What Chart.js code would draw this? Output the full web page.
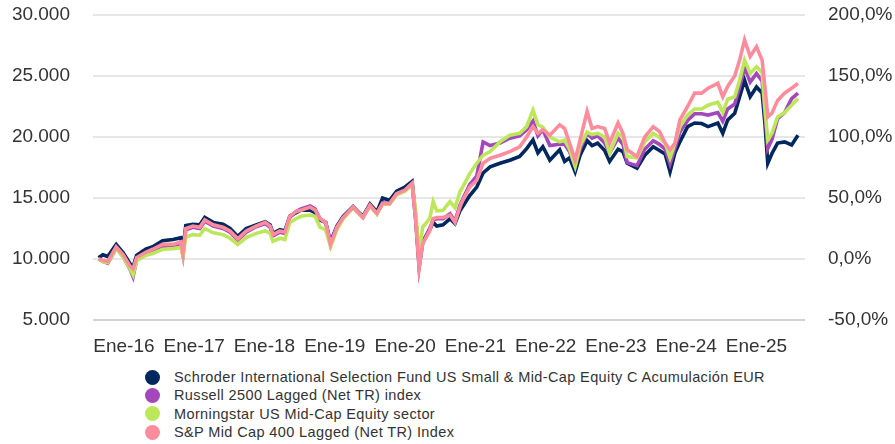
<!DOCTYPE html>
<html>
<head>
<meta charset="utf-8">
<script src="https://cdn.jsdelivr.net/npm/chart.js@4/dist/chart.umd.min.js"></script>
<style>
html,body{margin:0;padding:0;background:#fff;}
#wrap{position:relative;width:895px;height:444px;overflow:hidden;}
#c{position:absolute;left:0;top:0;}
#legend{position:absolute;left:145px;top:368px;font-family:"Liberation Sans",Arial,sans-serif;font-size:14.5px;letter-spacing:0.38px;color:#333;}
.item{display:flex;align-items:center;height:18.3px;white-space:nowrap;}
.dot{width:15px;height:15px;border-radius:50%;margin-right:14px;flex:none;}
</style>
</head>
<body>
<div id="wrap"><canvas id="c" width="895" height="362"></canvas><div id="legend"></div></div>
<script>
const seriesNames = [
  "Schroder International Selection Fund US Small & Mid-Cap Equity C Acumulación EUR",
  "Russell 2500 Lagged (Net TR) index",
  "Morningstar US Mid-Cap Equity sector",
  "S&P Mid Cap 400 Lagged (Net TR) Index"
];
const seriesColors = ["#00285f", "#a347ba", "#bde75b", "#ff8c9c"];

// dates as decimal years
const dates = [
2015.64,2015.70,2015.77,2015.89,2015.99,2016.09,2016.13,2016.18,2016.31,2016.41,
2016.55,2016.70,2016.81,2016.84,2016.88,2016.98,2017.08,2017.15,2017.27,2017.41,
2017.51,2017.62,2017.74,2017.88,2018.01,2018.08,2018.12,2018.22,2018.29,2018.36,
2018.45,2018.52,2018.65,2018.72,2018.79,2018.87,2018.94,2019.03,2019.12,2019.26,
2019.31,2019.40,2019.50,2019.60,2019.68,2019.78,2019.88,2020.00,2020.10,2020.15,
2020.20,2020.25,2020.35,2020.40,2020.45,2020.54,2020.64,2020.71,2020.78,2020.82,
2020.92,2021.02,2021.11,2021.21,2021.35,2021.49,2021.63,2021.73,2021.82,2021.89,
2021.96,2022.06,2022.20,2022.27,2022.34,2022.42,2022.49,2022.59,2022.66,2022.74,
2022.84,2022.91,2023.03,2023.10,2023.16,2023.30,2023.41,2023.53,2023.62,2023.70,
2023.77,2023.84,2023.91,2024.02,2024.12,2024.22,2024.31,2024.45,2024.52,2024.59,
2024.69,2024.76,2024.83,2024.91,2025.00,2025.08,2025.12,2025.16,2025.22,2025.30,
2025.40,2025.50,2025.59
];

const fundValues = [
10100,10350,10200,11200,10500,9600,9350,10300,10800,11000,
11500,11600,11750,10700,12750,12850,12800,13400,13000,12850,
12500,11850,12500,12800,13050,12800,12100,12400,12300,13500,
13800,14000,14000,13800,13200,13000,11400,12700,13500,14300,
14000,13500,14500,13850,15000,14800,15550,15900,16350,13500,
9600,11400,12400,13000,12700,12800,13300,12900,13950,14300,
15200,15900,17050,17550,17850,18100,18400,19050,19750,18700,
19200,18100,18950,18000,18300,17150,18500,19700,19300,19500,
18900,18000,19000,18800,17850,17450,18500,19200,18900,18600,
17150,18700,19600,20850,21150,21100,20850,21150,20300,21400,
21950,23300,24650,23300,24100,23600,21100,17850,18650,19500,
19600,19350,20150
];
const russellValues = [
10000,9800,9650,10900,10200,9100,8550,9900,10350,10550,
10950,11050,11200,10300,12400,12600,12500,13100,12700,12500,
12200,11550,12200,12650,12900,12600,11900,12200,12100,13400,
13900,14100,14350,14100,13300,13000,11200,12600,13400,14250,
13950,13400,14400,13700,14600,14550,15350,15650,16200,13300,
9300,11300,12500,13200,13300,13300,13700,13100,14400,14900,
16100,16800,19600,19300,19500,19900,20100,20600,21300,20100,
20600,19300,19400,19400,18800,17600,19000,20300,19900,20100,
19500,18700,19900,19400,17900,17650,19000,19700,19400,19000,
17800,19100,20400,21350,21900,21900,21800,22000,21300,22300,
22700,24100,25700,24500,25200,24600,22000,19050,19800,21500,
22000,23150,23600
];
const morningstarValues = [
10000,9800,9700,10850,10150,9150,8700,9850,10300,10450,
10800,10850,10950,10200,11800,12000,11950,12500,12150,12000,
11700,11200,11750,12100,12300,12100,11450,11700,11600,13000,
13300,13500,13600,13500,12600,12400,11000,12400,13300,14200,
13900,13400,14350,13700,14500,14500,15250,15550,16100,14000,
10500,12600,13300,14700,13950,14000,14700,14200,15500,15900,
17000,17850,18500,18800,19600,20150,20300,20850,22200,21000,
20800,20000,19600,19750,19000,17600,19300,20400,20200,20300,
20000,18700,20300,20000,18400,18300,19600,20300,19950,19500,
18300,19500,20850,21800,22300,22300,22600,22850,22000,23100,
23300,24650,26300,25200,25750,25300,22300,19750,20300,21650,
22000,22600,23150
];
const sp400Values = [
10000,9900,9800,11000,10350,9400,9200,10100,10550,10800,
11200,11200,11400,10450,12500,12700,12600,13200,12800,12600,
12300,11650,12300,12700,13000,12700,12000,12300,12200,13500,
13900,14000,14250,14000,13300,13000,11200,12600,13400,14250,
13950,13400,14400,13750,14550,14550,15350,15650,16200,13200,
9300,11250,12300,13300,13400,13400,13600,13000,14250,14800,
15900,16450,17850,18250,18500,18800,19200,20000,20850,20300,
20600,20150,21000,20700,19500,18100,19750,22100,20700,20850,
20700,19500,21150,20300,18950,18400,20000,20850,20450,19500,
18950,19500,21400,22500,23600,23600,24000,24400,23300,24150,
25000,26300,27950,26600,27400,26300,24100,21650,21950,23000,
23600,24000,24400
];
const seriesValues = [fundValues, russellValues, morningstarValues, sp400Values];

const yearTicks = [2016,2017,2018,2019,2020,2021,2022,2023,2024,2025];
const leftTicks = [5000,10000,15000,20000,25000,30000];
const rightTicks = [-50,0,50,100,150,200];

const fmtThousands = v => String(v).replace(/\B(?=(\d{3})+(?!\d))/g, '.');
const fmtPct = v => v.toFixed(1).replace('.', ',') + '%';

const FONT = '"Liberation Sans", Arial, sans-serif';
const TXT = '#333333';
const CLEAR = 'rgba(0,0,0,0)';

const datasets = seriesValues.map((vals, i) => ({
  label: seriesNames[i],
  data: vals.map((v, j) => ({x: dates[j], y: v})),
  borderColor: seriesColors[i],
  backgroundColor: seriesColors[i],
  borderWidth: 3.6,
  pointRadius: 0,
  tension: 0,
  order: 3 - i,
  yAxisID: 'y'
}));

new Chart(document.getElementById('c'), {
  type: 'line',
  data: { datasets },
  options: {
    responsive: false,
    animation: false,
    devicePixelRatio: 1,
    layout: { padding: { top: 15, left: 0, right: 0, bottom: 0 } },
    plugins: { legend: { display: false }, tooltip: { enabled: false } },
    scales: {
      x: {
        type: 'linear',
        min: 2015.56,
        max: 2025.69,
        grid: { display: false, drawTicks: false },
        border: { display: false },
        afterBuildTicks: s => { s.ticks = yearTicks.map(v => ({ value: v })); },
        afterFit: s => { s.height = 42; },
        ticks: {
          autoSkip: false, maxRotation: 0, padding: 15,
          color: TXT, font: { family: FONT, size: 19 },
          callback: v => 'Ene-' + String(v).slice(2)
        }
      },
      y: {
        position: 'left',
        min: 5000, max: 30000,
        afterBuildTicks: s => { s.ticks = leftTicks.map(v => ({ value: v })); },
        afterFit: s => { s.width = 93; },
        grid: {
          drawTicks: true, tickLength: 23, tickColor: CLEAR, lineWidth: 2,
          color: c => (c.tick && c.tick.value === 5000) ? '#d2d2d2' : '#e6e6e6'
        },
        border: { display: false },
        ticks: {
          padding: 0, color: TXT, font: { family: FONT, size: 19 },
          callback: v => fmtThousands(v)
        }
      },
      y2: {
        position: 'right',
        min: -50, max: 200,
        afterBuildTicks: s => { s.ticks = rightTicks.map(v => ({ value: v })); },
        afterFit: s => { s.width = 90; },
        grid: { display: true, drawOnChartArea: false, drawTicks: true, tickLength: 23, tickColor: CLEAR, color: CLEAR },
        border: { display: false },
        ticks: {
          padding: 0, color: TXT, font: { family: FONT, size: 19 },
          callback: v => fmtPct(v)
        }
      }
    }
  }
});

const legend = document.getElementById('legend');
seriesNames.forEach((name, i) => {
  const row = document.createElement('div');
  row.className = 'item';
  const dot = document.createElement('span');
  dot.className = 'dot';
  dot.style.background = seriesColors[i];
  const t = document.createElement('span');
  t.textContent = name;
  row.appendChild(dot); row.appendChild(t);
  legend.appendChild(row);
});
</script>
</body>
</html>
